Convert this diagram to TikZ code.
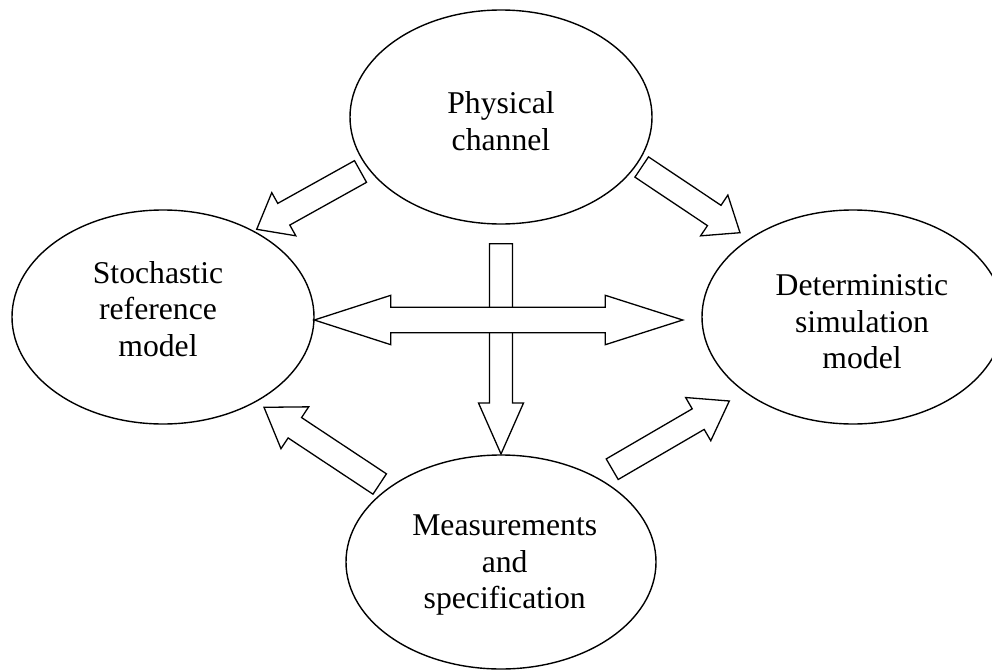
\documentclass[tikz,border=0pt]{standalone}
\usepackage{fontspec}
\setmainfont{Liberation Serif}
\usetikzlibrary{shapes.geometric,calc}

\tikzset{
  blob/.style={ellipse, draw, fill=white, line width=1.4pt,
    minimum width=302pt, minimum height=214pt, inner sep=0pt},
  lbl/.style={align=center, inner sep=0pt,
    font=\fontsize{31.7}{36.5}\selectfont},
  blockline/.style={draw, fill=white, line width=1.3pt, line join=miter},
}

% block arrow: #1 tail, #2 tip, #3 half shaft width, #4 half head width, #5 head length
\newcommand\blockarrow[5]{%
  \coordinate (ba-h) at ($(#2)!#5!(#1)$);
  \path[blockline]
    ($(#1)!#3!90:(#2)$) -- ($(ba-h)!#3!90:(#2)$) -- ($(ba-h)!#4!90:(#2)$)
    -- (#2)
    -- ($(ba-h)!#4!-90:(#2)$) -- ($(ba-h)!#3!-90:(#2)$) -- ($(#1)!#3!-90:(#2)$)
    -- cycle;
}

\begin{document}
\begin{tikzpicture}[x=1pt, y=-1pt]
  \clip (0,0) rectangle (992,669);

  % the four models
  \node[blob] (phys)  at (501,117) {};
  \node[blob] (stoch) at (163,317) {};
  \node[blob] (det)   at (853,317) {};
  \node[blob, minimum width=310pt] (meas) at (501,562) {};

  \node[lbl] (phys-t)  at (501,121.3) {Physical\\channel};
  \node[lbl] (stoch-t) at (158,308.8) {Stochastic\\reference\\model};
  \node[lbl] (det-t)   at (862,321.7) {Deterministic\\simulation\\model};
  \node[lbl] (meas-t)  at (504.7,565.4) {Measurements\\and\\specification};

  % end points of the arrows
  \coordinate (ps-a) at (360.5,171.5);  \coordinate (ps-b) at (256.7,229.3);
  \coordinate (pd-a) at (641.7,167);    \coordinate (pd-b) at (740,232.7);
  \coordinate (ms-a) at (379.7,484);    \coordinate (ms-b) at (264,407.3);
  \coordinate (md-a) at (612.2,469.2);  \coordinate (md-b) at (729.3,401);
  \coordinate (pm-a) at (501,243.7);    \coordinate (pm-b) at (501,454);
  \coordinate (sd-l) at (314.3,320);    \coordinate (sd-r) at (682.7,320);

  % diagonal arrows
  \blockarrow{ps-a}{ps-b}{12.4pt}{24.7pt}{31pt}
  \blockarrow{pd-a}{pd-b}{12.2pt}{24.5pt}{31pt}
  \blockarrow{ms-a}{ms-b}{12.2pt}{25.1pt}{37pt}
  \blockarrow{md-a}{md-b}{11.9pt}{25pt}{36pt}

  % vertical arrow from the channel down to the measurements
  \blockarrow{pm-a}{pm-b}{11.5pt}{22.5pt}{51pt}

  % double arrow between the two models, lying over the vertical one
  \path[blockline]
    (sd-l) -- ($(sd-l)+(76.5,-24.7)$) -- ($(sd-l)+(76.5,-12.7)$)
    -- ($(sd-r)+(-77.4,-12.7)$) -- ($(sd-r)+(-77.4,-24.7)$)
    -- (sd-r)
    -- ($(sd-r)+(-77.4,24.7)$) -- ($(sd-r)+(-77.4,12.7)$)
    -- ($(sd-l)+(76.5,12.7)$) -- ($(sd-l)+(76.5,24.7)$)
    -- cycle;
\end{tikzpicture}
\end{document}
